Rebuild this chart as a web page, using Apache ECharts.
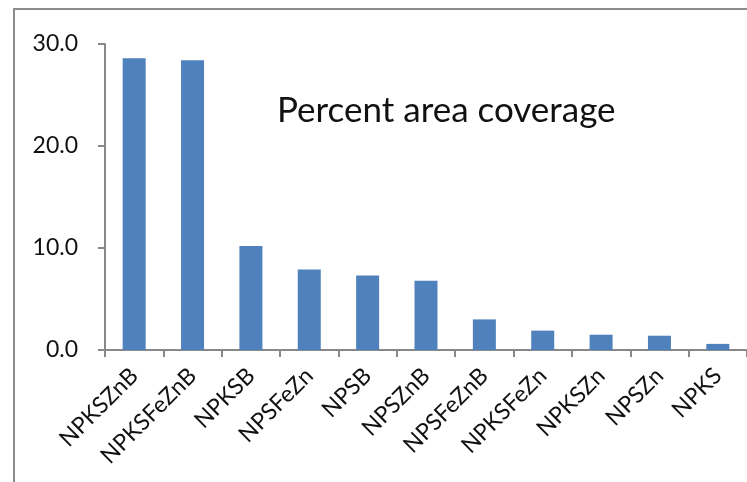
<!DOCTYPE html>
<html>
<head>
<meta charset="utf-8">
<script src="https://cdn.jsdelivr.net/npm/echarts@6/dist/echarts.min.js"></script>
<style>
  html, body { margin: 0; padding: 0; background: #fff; }
  #chart { width: 747px; height: 482px; }
</style>
</head>
<body>
<div id="chart"></div>
<script>
  // treatments, ordered by coverage
  const categories = ['NPKSZnB', 'NPKSFeZnB', 'NPKSB', 'NPSFeZn', 'NPSB', 'NPSZnB',
    'NPSFeZnB', 'NPKSFeZn', 'NPKSZn', 'NPSZn', 'NPKS'];
  const coverage = [28.6, 28.4, 10.2, 7.9, 7.3, 6.8, 3.0, 1.9, 1.5, 1.4, 0.6];
  const yTicks = [0, 10, 20, 30];

  const chart = echarts.init(document.getElementById('chart'));
  const font = 'Lato, "Open Sans", sans-serif';

  chart.setOption({
    backgroundColor: '#fff',
    animation: false,
    graphic: [{
      type: 'rect',
      shape: { x: 14, y: 9, width: 900, height: 600 },
      style: { fill: 'none', stroke: '#8c8c8c', lineWidth: 2 }
    }, {
      type: 'text',
      left: 277,
      top: 93,
      style: {
        text: 'Percent area coverage',
        font: '35px ' + font,
        fill: '#111'
      }
    }],
    grid: {
      left: 105,
      top: 44,
      width: 651,
      bottom: 132
    },
    xAxis: {
      type: 'category',
      data: categories,
      axisLine: { lineStyle: { color: '#888', width: 2 } },
      axisTick: { show: true, length: 7, lineStyle: { color: '#888', width: 2 } },
      axisLabel: {
        rotate: 45,
        margin: 22,
        interval: 0,
        color: '#111',
        fontSize: 23,
        fontFamily: font
      }
    },
    yAxis: {
      type: 'value',
      min: yTicks[0],
      max: yTicks[yTicks.length - 1],
      interval: 10,
      axisLine: { show: true, lineStyle: { color: '#888', width: 2 } },
      axisTick: { show: true, length: 7, lineStyle: { color: '#888', width: 2 } },
      splitLine: { show: false },
      axisLabel: {
        margin: 27,
        color: '#111',
        fontSize: 23,
        fontFamily: font,
        formatter: v => v.toFixed(1)
      }
    },
    series: [{
      name: 'Percent area coverage',
      type: 'bar',
      data: coverage,
      barWidth: 23,
      itemStyle: { color: '#4f81bd' }
    }]
  });
</script>
</body>
</html>
